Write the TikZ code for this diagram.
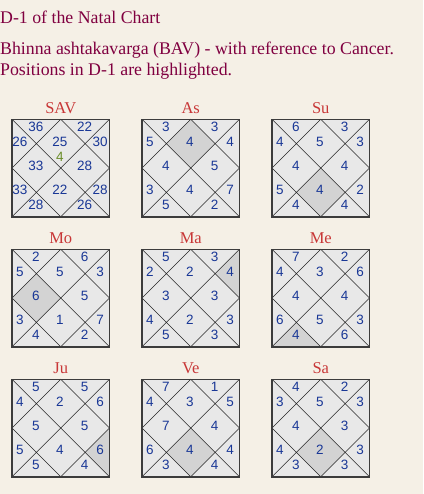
\documentclass[tikz,border=0pt]{standalone}
\usepackage{fontspec}
\setmainfont{Liberation Serif}
\newfontfamily\numfont{Liberation Sans}
\definecolor{bg}{RGB}{245,240,230}
\definecolor{hdr}{RGB}{128,0,64}
\definecolor{ttl}{RGB}{200,55,55}
\definecolor{numblue}{RGB}{25,55,150}
\definecolor{grn}{RGB}{105,140,40}
\definecolor{boxfill}{RGB}{232,232,232}
\definecolor{hlfill}{RGB}{211,211,211}
\definecolor{bord}{RGB}{60,60,60}
\tikzset{
  hdrtext/.style={anchor=base west, inner sep=0pt, text=hdr, font=\fontsize{17.8}{20}\selectfont},
  ttltext/.style={anchor=base, inner sep=0pt, text=ttl, font=\fontsize{16.5}{18}\selectfont},
  numtext/.style={inner sep=0pt, text=numblue, font=\numfont\fontsize{13.5}{13.5}\selectfont},
  border/.style={draw=bord, line width=1.5pt},
  inner/.style={draw=black!85, line width=0.5pt},
  hlarea/.style={fill=hlfill}
}
\def\PX{{0.49,0.245,0.08,0.245,0.08,0.245,0.49,0.745,0.905,0.745,0.905,0.745}}
\def\PY{{0.23,0.08,0.235,0.48,0.72,0.88,0.72,0.88,0.72,0.48,0.235,0.08}}
\newcommand\chartbox[6]{%
  \begin{scope}[shift={(#2,#3)}]
    \fill[boxfill] (0,0) rectangle (97.5,97.5);
    \if\relax\detokenize{#6}\relax\else
      \begin{scope}[scale=97.5]\fill[hlarea] #6;\end{scope}
    \fi
    \draw[inner] (0,0) -- (97.5,97.5) (97.5,0) -- (0,97.5)
      (48.75,0) -- (97.5,48.75) -- (48.75,97.5) -- (0,48.75) -- cycle;
    \draw[border] (0,0) rectangle (97.5,97.5);
    \node[ttltext] (#1-t) at (48.75,-6) {#4};
    \foreach \v [count=\i] in {#5} {
      \pgfmathsetmacro\xx{97.5*\PX[\i-1]}
      \pgfmathsetmacro\yy{97.5*\PY[\i-1]}
      \node[numtext] (#1-\i) at (\xx,\yy) {\v};
    }
  \end{scope}}
\begin{document}
\begin{tikzpicture}[x=1pt,y=-1pt]
\fill[bg] (0,0) rectangle (423,494);
\useasboundingbox (0,0) rectangle (423,494);
\node[hdrtext] (h1) at (0,24) {D-1 of the Natal Chart};
\node[hdrtext] (h2) at (0,55) {Bhinna ashtakavarga (BAV) - with reference to Cancer.};
\node[hdrtext] (h3) at (0,75.5) {Positions in D-1 are highlighted.};
% row 1
\chartbox{sav}{12}{119.3}{SAV}{25,36,26,33,33,28,22,26,28,28,30,22}{}
\node[numtext, text=grn] (sav-g) at (12+0.49*97.5,119.3+0.39*97.5) {4};
\chartbox{as}{142}{119.3}{As}{4,3,5,4,3,5,4,2,7,5,4,3}{(0.5,0)--(0.75,0.25)--(0.5,0.5)--(0.25,0.25)--cycle}
\chartbox{su}{272}{119.3}{Su}{5,6,4,4,5,4,4,4,2,4,3,3}{(0.5,0.5)--(0.75,0.75)--(0.5,1)--(0.25,0.75)--cycle}
% row 2
\chartbox{mo}{12}{249.3}{Mo}{5,2,5,6,3,4,1,2,7,5,3,6}{(0,0.5)--(0.25,0.25)--(0.5,0.5)--(0.25,0.75)--cycle}
\chartbox{ma}{142}{249.3}{Ma}{2,5,2,3,4,5,2,3,3,3,4,3}{(1,0)--(1,0.5)--(0.75,0.25)--cycle}
\chartbox{me}{272}{249.3}{Me}{3,7,4,4,6,4,5,6,3,4,6,2}{(0,1)--(0.25,0.75)--(0.5,1)--cycle}
% row 3
\chartbox{ju}{12}{379.3}{Ju}{2,5,4,5,5,5,4,4,6,5,6,5}{(1,0.5)--(1,1)--(0.75,0.75)--cycle}
\chartbox{ve}{142}{379.3}{Ve}{3,7,4,7,6,3,4,4,4,4,5,1}{(0.5,0.5)--(0.75,0.75)--(0.5,1)--(0.25,0.75)--cycle}
\chartbox{sa}{272}{379.3}{Sa}{5,4,3,4,4,3,2,3,3,3,3,2}{(0.5,0.5)--(0.75,0.75)--(0.5,1)--(0.25,0.75)--cycle}
\end{tikzpicture}
\end{document}
